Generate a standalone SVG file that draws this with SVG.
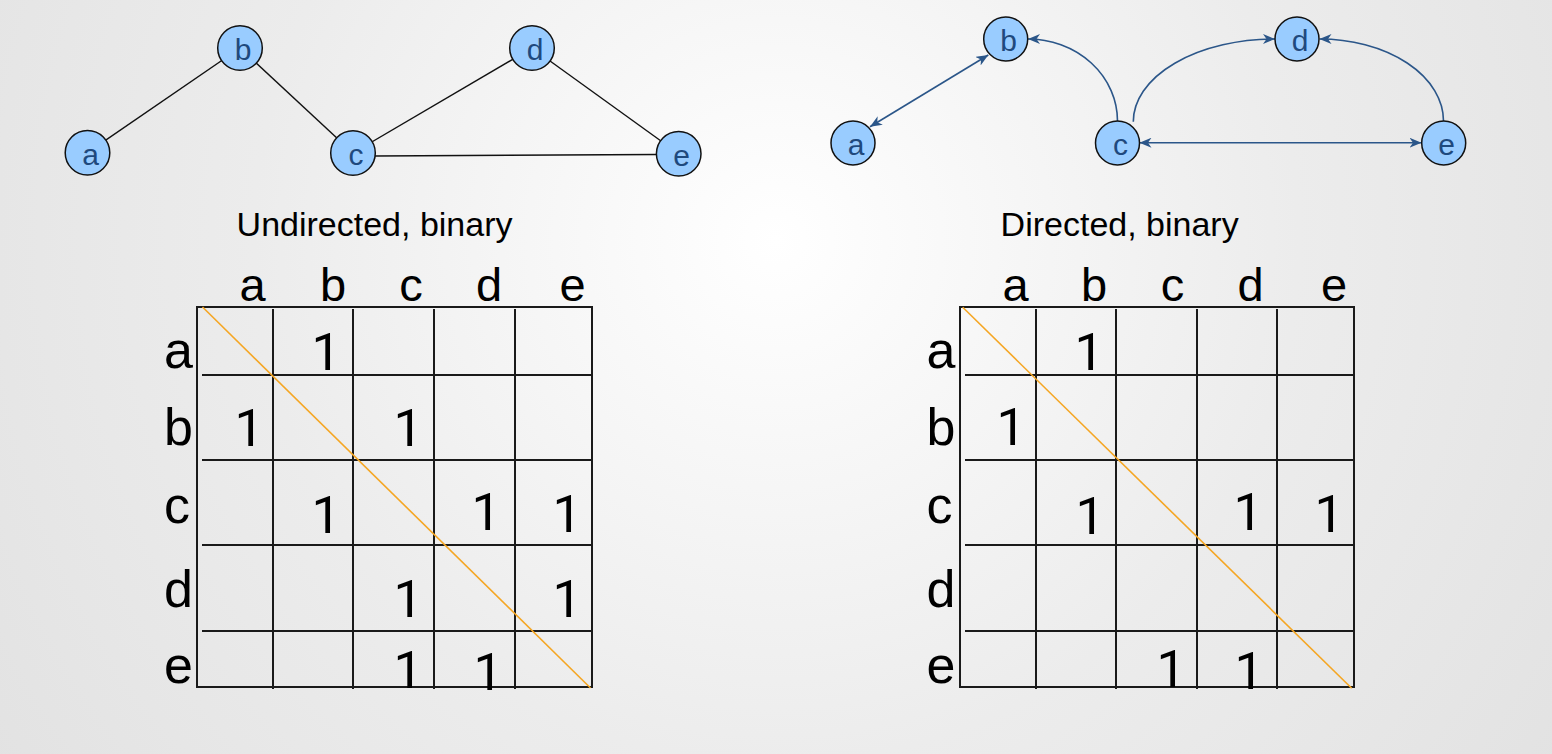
<svg xmlns="http://www.w3.org/2000/svg" width="1552" height="754" viewBox="0 0 1552 754">
<defs>
<radialGradient id="bg" cx="776" cy="240" r="950" gradientUnits="userSpaceOnUse">
<stop offset="0" stop-color="#ffffff"/>
<stop offset="0.55" stop-color="#ececec"/>
<stop offset="1" stop-color="#e2e2e2"/>
</radialGradient>
<marker id="arr" viewBox="0 0 12 10" refX="12" refY="5" markerWidth="12" markerHeight="10" markerUnits="userSpaceOnUse" orient="auto-start-reverse">
<path d="M0,0 L12,5 L0,10 L3.5,5 z" fill="#2b5689"/>
</marker>
<style>
.node{fill:#99ccff;stroke:#111;stroke-width:1.5}
.nlab{font-family:"Liberation Sans",Arial,sans-serif;font-size:30px;fill:#1f497d;text-anchor:middle}
.ue{stroke:#111;stroke-width:1.4;fill:none}
.de{stroke:#2b5689;stroke-width:1.6;fill:none}
.title{font-family:"Liberation Sans",Arial,sans-serif;font-size:34px;fill:#000}
.hdr{font-family:"Liberation Sans",Arial,sans-serif;font-size:47px;fill:#000;text-anchor:middle}
.rlab{font-family:"Liberation Sans",Arial,sans-serif;font-size:52px;fill:#000}
.one{font-family:Roboto,"Liberation Sans",sans-serif;font-size:52px;fill:#000;text-anchor:middle}
.grid{stroke:#1a1a1a;stroke-width:2;fill:none}
.diag{stroke:#f5a623;stroke-width:1.6}
</style>
</defs>
<rect x="0" y="0" width="1552" height="754" fill="url(#bg)"/>

<!-- Undirected graph connectors -->
<g id="connectors-undirected">
<line class="ue" x1="87.5" y1="152.7" x2="240" y2="48"/>
<line class="ue" x1="240" y1="48" x2="353" y2="153"/>
<line class="ue" x1="353" y1="153" x2="532" y2="48"/>
<line class="ue" x1="532" y1="48" x2="678.7" y2="153.7"/>
<line class="ue" x1="375" y1="156" x2="657" y2="154.5"/>
</g>
<g id="u-a"><circle class="node" cx="87.5" cy="152.7" r="22.3"/><text class="nlab" x="90.5" y="164.7">a</text></g>
<g id="u-b"><circle class="node" cx="240" cy="48" r="22.3"/><text class="nlab" x="243" y="60.2">b</text></g>
<g id="u-c"><circle class="node" cx="353" cy="153" r="22.3"/><text class="nlab" x="356" y="165">c</text></g>
<g id="u-d"><circle class="node" cx="532" cy="48" r="22.3"/><text class="nlab" x="535" y="60.2">d</text></g>
<g id="u-e"><circle class="node" cx="678.7" cy="153.7" r="22.3"/><text class="nlab" x="681.7" y="165.7">e</text></g>

<!-- Directed graph connectors -->
<g id="connectors-directed">
<line class="de" x1="870" y1="126.7" x2="988.3" y2="55" marker-start="url(#arr)" marker-end="url(#arr)"/>
<path class="de" d="M1117.5,121 A89.5,82 0 0 0 1028,39" marker-end="url(#arr)"/>
<path class="de" d="M1133.3,121.7 A141.7,82.7 0 0 1 1275,39" marker-end="url(#arr)"/>
<path class="de" d="M1443.5,121 A124,82 0 0 0 1319.5,39" marker-end="url(#arr)"/>
<line class="de" x1="1139.5" y1="142.7" x2="1421.5" y2="142.7" marker-start="url(#arr)" marker-end="url(#arr)"/>
</g>
<g id="d-a"><circle class="node" cx="853" cy="143" r="22"/><text class="nlab" x="856" y="155">a</text></g>
<g id="d-b"><circle class="node" cx="1005.7" cy="39" r="22"/><text class="nlab" x="1008.7" y="51.2">b</text></g>
<g id="d-c"><circle class="node" cx="1117.5" cy="143" r="22"/><text class="nlab" x="1120.5" y="155">c</text></g>
<g id="d-d"><circle class="node" cx="1297" cy="39" r="22"/><text class="nlab" x="1300" y="51.2">d</text></g>
<g id="d-e"><circle class="node" cx="1443.7" cy="143" r="22"/><text class="nlab" x="1446.7" y="155">e</text></g>

<!-- Titles -->
<text class="title" x="236.6" y="236">Undirected, binary</text>
<text class="title" x="1000.6" y="236">Directed, binary</text>

<!-- Undirected matrix -->
<g id="matrix-undirected">
<g class="hdr">
<text x="252.5" y="301">a</text><text x="333" y="301">b</text><text x="411" y="301">c</text><text x="489" y="301">d</text><text x="572.5" y="301">e</text>
</g>
<g class="rlab">
<text x="164" y="367.5">a</text><text x="164" y="445">b</text><text x="164" y="523">c</text><text x="164" y="607">d</text><text x="164" y="683">e</text>
</g>
<path class="grid" d="M197,307 H592 V687 H197 Z"/>
<path class="grid" d="M273,309 V689 M353,309 V689 M434,309 V689 M515,309 V689"/>
<path class="grid" d="M202,375 H592 M202,460 H592 M202,545 H592 M202,631 H592"/>
<line class="diag" x1="202.5" y1="307" x2="590.5" y2="688"/>
<g class="one">
<text x="326" y="370">1</text>
<text x="249" y="446">1</text><text x="408" y="446">1</text>
<text x="326" y="533">1</text><text x="486" y="529.5">1</text><text x="567" y="531.5">1</text>
<text x="408" y="617">1</text><text x="567" y="617">1</text>
<text x="408" y="688">1</text><text x="488" y="690">1</text>
</g>
</g>

<!-- Directed matrix -->
<g id="matrix-directed">
<g class="hdr">
<text x="1015.5" y="301">a</text><text x="1094" y="301">b</text><text x="1172.5" y="301">c</text><text x="1250.5" y="301">d</text><text x="1334" y="301">e</text>
</g>
<g class="rlab">
<text x="926.5" y="367.5">a</text><text x="926.5" y="445">b</text><text x="926.5" y="523">c</text><text x="926.5" y="607">d</text><text x="926.5" y="683">e</text>
</g>
<path class="grid" d="M960,307 H1354 V687 H960 Z"/>
<path class="grid" d="M1036,309 V689 M1116,309 V689 M1197,309 V689 M1277,309 V689"/>
<path class="grid" d="M965,375 H1354 M965,460 H1354 M965,545 H1354 M965,631 H1354"/>
<line class="diag" x1="962.7" y1="307.3" x2="1351.7" y2="688.3"/>
<g class="one">
<text x="1089" y="370">1</text>
<text x="1011" y="445">1</text>
<text x="1090" y="534">1</text><text x="1248" y="529.5">1</text><text x="1329" y="531.5">1</text>
<text x="1171" y="687">1</text><text x="1249" y="688.5">1</text>
</g>
</g>
</svg>
